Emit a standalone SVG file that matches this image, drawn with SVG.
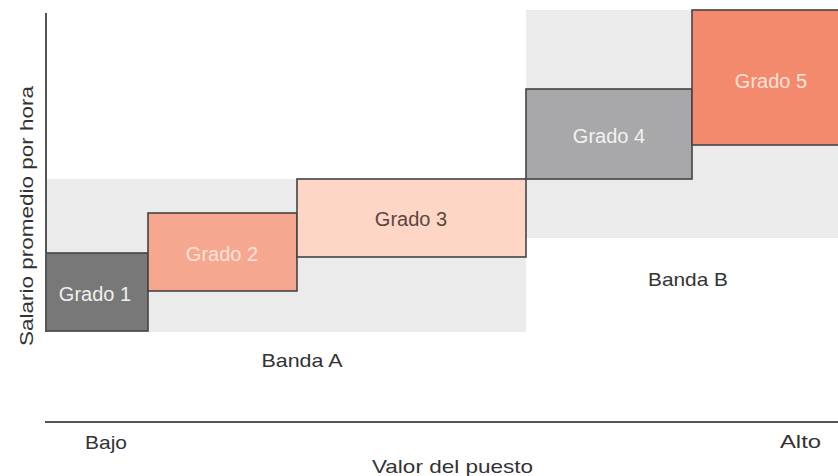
<svg xmlns="http://www.w3.org/2000/svg" width="838" height="476" viewBox="0 0 838 476">
<style>
text{font-family:"Liberation Sans",Arial,sans-serif}
.band{fill:#ebebeb}
.box{stroke:#444;stroke-width:1.6}
.lbl{font-size:20px;text-anchor:middle}
.ax{font-size:19px;fill:#333}
.axis{stroke:#555;stroke-width:2;fill:none}
</style>
<rect width="838" height="476" fill="#fff"/>
<g id="bandA">
<rect class="band" x="46" y="179" width="480" height="153"/>
<text class="ax" x="302" y="367" text-anchor="middle" textLength="81" lengthAdjust="spacingAndGlyphs">Banda A</text>
</g>
<g id="bandB">
<rect class="band" x="526" y="10" width="312" height="228"/>
<text class="ax" x="688" y="286" text-anchor="middle" textLength="80" lengthAdjust="spacingAndGlyphs">Banda B</text>
</g>
<g id="grado1">
<rect class="box" x="46" y="253" width="102" height="78" fill="#787878"/>
<text class="lbl" x="95" y="301" fill="#f0f0f0">Grado 1</text>
</g>
<g id="grado2">
<rect class="box" x="148" y="213" width="149" height="78" fill="#f6a790"/>
<text class="lbl" x="222" y="261" fill="#fde3d6">Grado 2</text>
</g>
<g id="grado3">
<rect class="box" x="297" y="179" width="229" height="78" fill="#fdd6c6"/>
<text class="lbl" x="411" y="226" fill="#5a4640">Grado 3</text>
</g>
<g id="grado4">
<rect class="box" x="526" y="89" width="166" height="90" fill="#a8a8aa"/>
<text class="lbl" x="609" y="143" fill="#f2f2f2">Grado 4</text>
</g>
<g id="grado5">
<rect class="box" x="692" y="10" width="150" height="135" fill="#f48a6d"/>
<text class="lbl" x="771" y="88" fill="#fde2d8">Grado 5</text>
</g>
<g id="connectors">
<line class="axis" x1="46" y1="13" x2="46" y2="332"/>
<line class="axis" x1="45" y1="422" x2="838" y2="422"/>
</g>
<g id="axis-labels">
<text class="ax" transform="translate(33,216) rotate(-90)" text-anchor="middle" textLength="260" lengthAdjust="spacingAndGlyphs">Salario promedio por hora</text>
<text class="ax" x="85" y="449" textLength="42" lengthAdjust="spacingAndGlyphs">Bajo</text>
<text class="ax" x="780" y="448" textLength="41" lengthAdjust="spacingAndGlyphs">Alto</text>
<text class="ax" x="372" y="473" textLength="161" lengthAdjust="spacingAndGlyphs">Valor del puesto</text>
</g>
</svg>
